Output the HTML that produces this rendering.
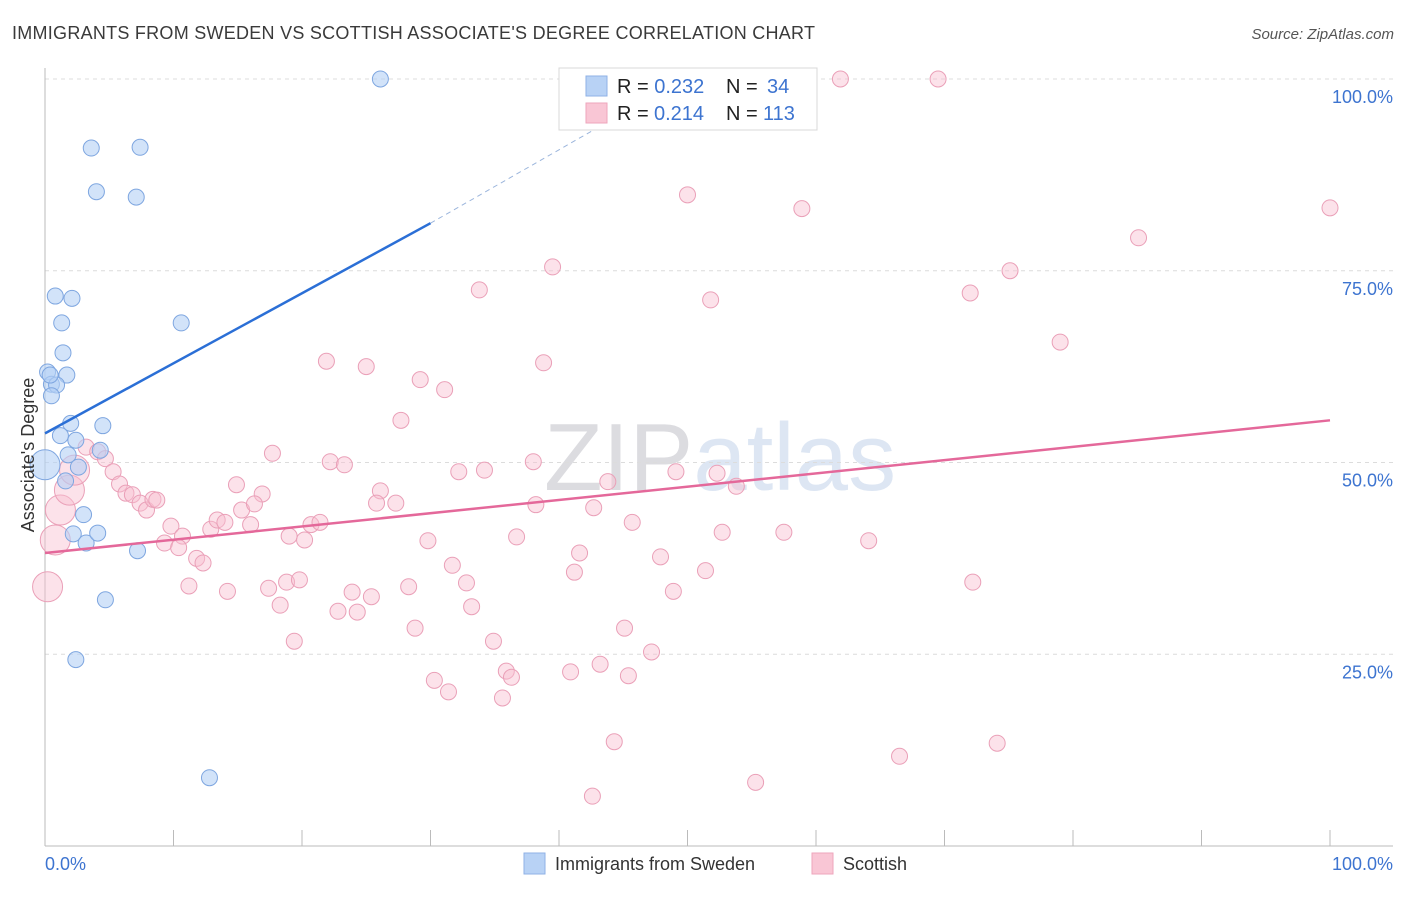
<!DOCTYPE html>
<html><head><meta charset="utf-8"><style>
body{margin:0;background:#fff;font-family:"Liberation Sans",sans-serif;}
svg text{font-family:"Liberation Sans",sans-serif;}
</style></head><body>
<svg id="c" width="1406" height="892">
<text x="12" y="39" font-size="18" fill="#3a3a3a" textLength="803">IMMIGRANTS FROM SWEDEN VS SCOTTISH ASSOCIATE'S DEGREE CORRELATION CHART</text>
<text x="1394" y="39" font-size="15" fill="#555" font-style="italic" text-anchor="end">Source: ZipAtlas.com</text>
<text x="720" y="490" font-size="96" fill="#e6e6ea" text-anchor="middle" font-family="Liberation Serif"><tspan fill="#dcdce0">ZIP</tspan><tspan fill="#dde6f3" font-family="Liberation Sans">atlas</tspan></text>
<g id="grid"></g>
<g id="axes"></g>
<g id="pts"></g>
<g id="trend"></g>
<text transform="translate(34,455) rotate(-90)" font-size="18" fill="#333" text-anchor="middle">Associate's Degree</text>
<text x="45" y="870" font-size="18" fill="#3d74d0">0.0%</text>
<text x="1393" y="870" font-size="18" fill="#3d74d0" text-anchor="end">100.0%</text>
<g>
<rect x="559" y="68" width="258" height="62" fill="#fff" stroke="#d8d8d8"/>
<rect x="586" y="76" width="21" height="20" fill="#b8d2f5" stroke="#8fb1e6"/>
<rect x="586" y="103" width="21" height="20" fill="#f9c6d5" stroke="#eea6bc"/>
<text x="617" y="93" font-size="20" fill="#222">R = <tspan fill="#3d74d0">0.232</tspan><tspan x="726">N = </tspan><tspan fill="#3d74d0" x="767">34</tspan></text>
<text x="617" y="120" font-size="20" fill="#222">R = <tspan fill="#3d74d0" x="654">0.214</tspan><tspan x="726">N = </tspan><tspan fill="#3d74d0" x="763">113</tspan></text>
</g>
<g>
<rect x="524" y="853" width="21" height="21" fill="#b8d2f5" stroke="#8fb1e6"/>
<text x="555" y="870" font-size="18" fill="#333">Immigrants from Sweden</text>
<rect x="812" y="853" width="21" height="21" fill="#f9c6d5" stroke="#eea6bc"/>
<text x="843" y="870" font-size="18" fill="#333">Scottish</text>
</g>
</svg>
<script>
const yTicks=[25,50,75,100];
const yTickLabels=["25.0%","50.0%","75.0%","100.0%"];
const blueX=[26.1,3.6,7.4,4.0,7.1,0.8,2.1,1.3,10.6,1.4,0.2,1.7,0.5,0.9,0.5,2.0,4.5,1.2,2.4,1.8,4.3,2.6,1.6,0,3.0,2.2,3.2,4.1,7.2,4.7,2.4,12.8,0.4];
const blueY=[100,91.0,91.1,85.3,84.6,71.7,71.4,68.2,68.2,64.3,61.8,61.4,60.2,60.1,58.7,55.1,54.8,53.5,52.9,51.0,51.6,49.4,47.6,49.7,43.2,40.7,39.5,40.8,38.5,32.1,24.3,8.9,61.4];
const blueBig=[23];
const pinkX=[61.9,69.5,50.0,58.9,100,85.1,39.5,75.1,33.8,51.8,72.0,79.0,21.9,25.0,38.8,29.2,31.1,27.7,17.7,22.2,23.3,32.2,34.2,38.0,49.1,52.3,43.8,53.8,14.9,16.9,26.1,25.8,27.3,38.2,42.7,3.2,4.1,4.7,5.3,5.8,6.3,6.8,7.4,7.9,8.4,8.7,9.8,10.7,9.3,10.4,11.8,12.3,12.9,13.4,14.0,15.3,16.0,16.3,19.0,20.7,21.4,20.2,29.8,36.7,45.7,52.7,57.5,64.1,41.6,31.7,41.2,47.9,51.4,32.8,11.2,14.2,17.4,18.8,19.8,23.9,25.4,28.3,48.9,72.2,18.3,22.8,24.3,33.2,28.8,45.1,19.4,34.9,47.2,35.9,36.3,40.9,43.2,45.4,30.3,31.4,35.6,44.3,66.5,74.1,55.3,42.6,0.2,1.2,0.8,1.9,2.3];
const pinkY=[100,100,84.9,83.1,83.2,79.3,75.5,75.0,72.5,71.2,72.1,65.7,63.2,62.5,63.0,60.8,59.5,55.5,51.2,50.1,49.7,48.8,49.0,50.1,48.8,48.6,47.5,46.9,47.1,45.9,46.3,44.7,44.7,44.5,44.1,52.0,51.4,50.5,48.8,47.2,46.0,45.8,44.7,43.8,45.2,45.1,41.7,40.4,39.5,38.9,37.5,36.9,41.3,42.5,42.2,43.8,41.9,44.6,40.4,41.9,42.2,39.9,39.8,40.3,42.2,40.9,40.9,39.8,38.2,36.6,35.7,37.7,35.9,34.3,33.9,33.2,33.6,34.4,34.7,33.1,32.5,33.8,33.2,34.4,31.4,30.6,30.5,31.2,28.4,28.4,26.7,26.7,25.3,22.8,22.0,22.7,23.7,22.2,21.6,20.1,19.3,13.6,11.7,13.4,8.3,6.5,33.8,43.8,39.9,46.4,49.0];
const pinkBig=[106,107,108,109,110];
const blueTrend=[53.8,81.2,94.6];
const blueTrendX=[0,30,44];
const pinkTrend=[38.2,55.5];
const pinkTrendX=[0,100];
const NS="http://www.w3.org/2000/svg";
const X0=45,X1=1330,Y0=846,Y100=79;
const sx=v=>X0+(X1-X0)*v/100;
const sy=v=>Y0-(Y0-Y100)*v/100;
function mk(t,a,p){const e=document.createElementNS(NS,t);for(const k in a)e.setAttribute(k,a[k]);p.appendChild(e);return e;}
const grid=document.getElementById('grid'),axes=document.getElementById('axes'),pts=document.getElementById('pts'),trend=document.getElementById('trend');
yTicks.forEach((t,i)=>{
 const l=mk('line',{x1:45,x2:1393,y1:sy(t),y2:sy(t),stroke:'#dcdcdc','stroke-dasharray':'4,4'},grid);
 
 
 const tx=mk('text',{x:1393,y:sy(t)+24,'font-size':18,fill:'#3d74d0','text-anchor':'end'},grid);
 tx.textContent=yTickLabels[i];
 
 
});
const ya=mk('line',{x1:45,x2:45,y1:68,y2:846,stroke:'#bbb'},axes);


const xa=mk('line',{x1:45,x2:1393,y1:846,y2:846,stroke:'#bbb'},axes);


for(let i=1;i<=10;i++){
 const tk=mk('line',{x1:sx(i*10),x2:sx(i*10),y1:830,y2:846,stroke:'#bbb'},axes);
 
 
}
function dots(X,Y,big,fill,stroke,name){
 X.forEach((x,i)=>{
  const c=mk('circle',{cx:sx(x),cy:sy(Y[i]),r:big.includes(i)?15:8,fill:fill,stroke:stroke,'stroke-width':1},pts);
  
  
 });
}
dots(pinkX,pinkY,pinkBig,'rgba(248,190,208,0.45)','#eaa0b8','scottish-point');
dots(blueX,blueY,blueBig,'rgba(180,208,245,0.6)','#7ea6e0','sweden-point');
const b1=mk('line',{x1:sx(blueTrendX[0]),y1:sy(blueTrend[0]),x2:sx(blueTrendX[1]),y2:sy(blueTrend[1]),stroke:'#2b6fd6','stroke-width':2.5},trend);


const b2=mk('line',{x1:sx(blueTrendX[1]),y1:sy(blueTrend[1]),x2:sx(blueTrendX[2]),y2:sy(blueTrend[2]),stroke:'#9bb5dc','stroke-width':1,'stroke-dasharray':'5,4'},trend);


const p1=mk('line',{x1:sx(pinkTrendX[0]),y1:sy(pinkTrend[0]),x2:sx(pinkTrendX[1]),y2:sy(pinkTrend[1]),stroke:'#e4689a','stroke-width':2.5},trend);


</script>
</body></html>
